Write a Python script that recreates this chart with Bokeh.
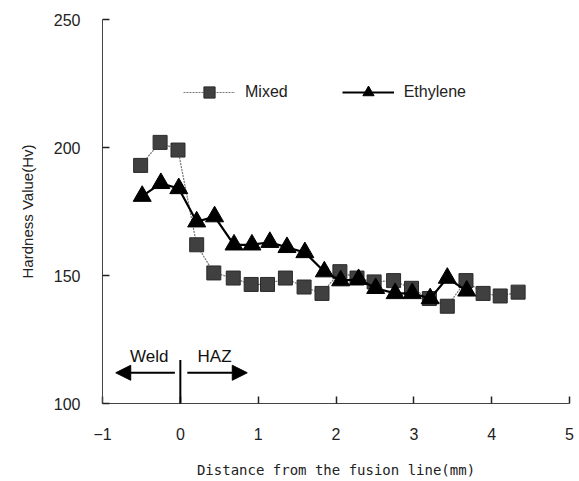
from bokeh.plotting import figure
from bokeh.models import (Range1d, FixedTicker, Legend, LegendItem, Arrow,
                          NormalHead, Label)
from bokeh.embed import file_html
from bokeh.resources import INLINE

# ---- data ----
mixed_x = [-0.51, -0.26, -0.03, 0.21, 0.43, 0.68, 0.91, 1.12, 1.35, 1.59, 1.82,
           2.05, 2.27, 2.49, 2.74, 2.97, 3.20, 3.43, 3.67, 3.89, 4.11, 4.34]
mixed_y = [193, 202, 199, 162, 151, 149, 146.5, 146.5, 149, 145.5, 143,
           151.5, 149, 147.5, 148, 145, 141, 138, 148, 143, 142, 143.5]

eth_x = [-0.49, -0.25, -0.02, 0.21, 0.44, 0.69, 0.92, 1.15, 1.37, 1.60, 1.85,
         2.06, 2.29, 2.51, 2.76, 2.98, 3.21, 3.43, 3.68]
eth_y = [181, 186, 184, 171, 173, 162, 162, 163, 161, 159, 151.5,
         148, 148.5, 145, 143, 143, 141, 149, 144]

x_ticks = [-1, 0, 1, 2, 3, 4, 5]
y_ticks = [100, 150, 200, 250]

p = figure(width=579, height=481, output_backend="svg", toolbar_location=None,
           x_range=Range1d(-1, 5), y_range=Range1d(100, 250),
           min_border_left=102, min_border_right=10, min_border_top=19,
           min_border_bottom=78)
p.outline_line_color = None
p.grid.visible = False
p.background_fill_color = "white"
p.border_fill_color = "white"

for ax in (p.xaxis[0], p.yaxis[0]):
    ax.axis_line_color = "#444444"
    ax.axis_line_width = 1
    ax.major_tick_in = 7
    ax.major_tick_out = 0
    ax.major_tick_line_color = "#222222"
    ax.major_tick_line_width = 1.5
    ax.minor_tick_line_color = None
    ax.major_label_text_font = "Liberation Sans"
    ax.major_label_text_font_size = "16px"
    ax.major_label_text_color = "#222222"
    ax.axis_label_text_font_style = "normal"
    ax.axis_label_text_color = "#222222"

p.xaxis.ticker = FixedTicker(ticks=x_ticks)
p.yaxis.ticker = FixedTicker(ticks=y_ticks)
p.xaxis.major_label_standoff = 24
p.yaxis.major_label_standoff = 22
p.xaxis.axis_label = "Distance from the fusion line(mm)"
p.xaxis.axis_label_text_font = "DejaVu Sans Mono"
p.xaxis.axis_label_text_font_size = "14px"
p.xaxis.axis_label_standoff = 19
p.yaxis.axis_label = "Hardness Value(Hv)"
p.yaxis.axis_label_text_font = "Liberation Sans"
p.yaxis.axis_label_text_font_size = "15px"
p.yaxis.axis_label_standoff = 15

# series
m_line = p.line(mixed_x, mixed_y, line_color="#777777", line_width=1.2,
                line_dash="2 1")
m_pts = p.scatter(mixed_x, mixed_y, marker="square", size=14,
                  fill_color="#404040", line_color="#2a2a2a", line_width=1)
e_line = p.line(eth_x, eth_y, line_color="black", line_width=2.2)
e_pts = p.scatter(eth_x, eth_y, marker="triangle", size=18,
                  fill_color="black", line_color="black")

legend = Legend(items=[LegendItem(label="Mixed", renderers=[m_line, m_pts]),
                       LegendItem(label="Ethylene", renderers=[e_line, e_pts])],
                orientation="horizontal", location=(81, 297),
                glyph_width=52, glyph_height=28, label_height=28,
                label_standoff=10, spacing=54, padding=0, margin=0,
                border_line_color=None, background_fill_alpha=0,
                label_text_font="Liberation Sans", label_text_font_size="16px",
                label_text_color="#222222")
p.add_layout(legend)

# Weld / HAZ annotation
p.add_layout(Arrow(end=None, x_start=0, y_start=100, x_end=0, y_end=117,
                   line_width=2, line_color="black"))
p.add_layout(Arrow(end=NormalHead(size=15, fill_color="black", line_color="black"),
                   x_start=-0.07, y_start=112, x_end=-0.83, y_end=112,
                   line_width=2, line_color="black"))
p.add_layout(Arrow(end=NormalHead(size=15, fill_color="black", line_color="black"),
                   x_start=0.09, y_start=112, x_end=0.86, y_end=112,
                   line_width=2, line_color="black"))
p.add_layout(Label(x=-0.4, y=118.5, text="Weld", text_align="center",
                   text_baseline="middle", text_font="Liberation Sans",
                   text_font_size="17px", text_color="#111111"))
p.add_layout(Label(x=0.44, y=118.5, text="HAZ", text_align="center",
                   text_baseline="middle", text_font="Liberation Sans",
                   text_font_size="17px", text_color="#111111"))

open("out.html", "w").write(file_html(p, INLINE))
